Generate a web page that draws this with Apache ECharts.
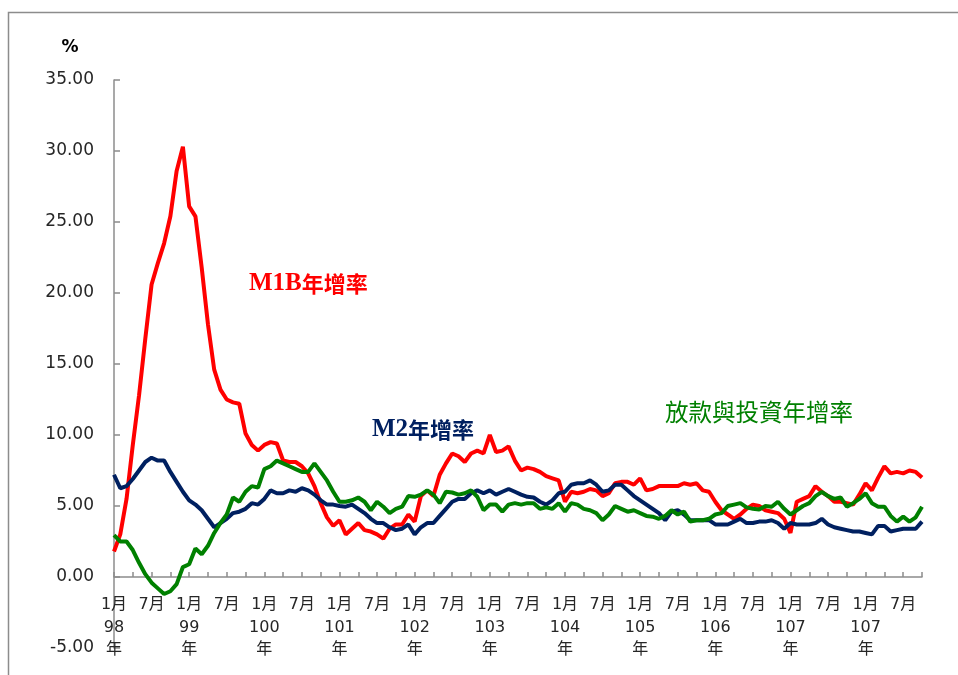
<!DOCTYPE html>
<html><head><meta charset="utf-8">
<script src="https://cdn.jsdelivr.net/npm/echarts@6/dist/echarts.min.js"></script>
<style>html,body{margin:0;padding:0;background:#fff}#c{width:958px;height:675px}</style>
</head><body><div id="c"></div>
<script>
// Year labels shown under each January (reference repeats "107")
const yearLabels = ['98','99','100','101','102','103','104','105','106','107','107'];
const monthCount = 130; // 98/1 .. 108/10

// M1B 年增率 (%)
const m1b = [1.8,3.0,5.5,9.3,12.8,16.8,20.6,22.1,23.5,25.4,28.6,30.3,
 26.1,25.4,21.8,17.8,14.6,13.2,12.5,12.3,12.2,10.1,9.3,8.9,
 9.3,9.5,9.4,8.2,8.1,8.1,7.8,7.3,6.4,5.2,4.2,3.6,
 4.0,3.0,3.4,3.8,3.3,3.2,3.0,2.7,3.4,3.7,3.7,4.4,
 3.9,5.7,6.1,5.7,7.2,8.0,8.7,8.5,8.1,8.7,8.9,8.7,
 10.0,8.8,8.9,9.2,8.2,7.5,7.7,7.6,7.4,7.1,6.95,6.8,
 5.3,6.0,5.9,6.0,6.2,6.1,5.7,5.9,6.6,6.7,6.7,6.5,
 6.95,6.1,6.2,6.4,6.4,6.4,6.4,6.6,6.5,6.6,6.1,6.0,
 5.3,4.7,4.4,4.1,4.4,4.8,5.1,5.0,4.7,4.6,4.5,4.1,
 3.1,5.3,5.5,5.7,6.4,6.0,5.7,5.3,5.3,5.2,5.1,5.8,
 6.6,6.1,7.0,7.8,7.3,7.4,7.3,7.5,7.4,7.0];

// M2 年增率 (%)
const m2 = [7.2,6.25,6.4,6.9,7.5,8.1,8.4,8.2,8.2,7.4,6.7,6.0,
 5.4,5.1,4.7,4.1,3.5,3.8,4.1,4.5,4.6,4.8,5.2,5.1,
 5.5,6.1,5.9,5.9,6.1,6.0,6.25,6.1,5.8,5.4,5.1,5.1,
 5.0,4.95,5.1,4.8,4.5,4.1,3.8,3.8,3.5,3.3,3.4,3.7,
 3.0,3.5,3.8,3.8,4.3,4.8,5.3,5.5,5.5,5.9,6.1,5.9,
 6.1,5.8,6.0,6.2,6.0,5.8,5.65,5.6,5.3,5.1,5.4,5.9,
 6.0,6.5,6.6,6.6,6.8,6.5,6.0,6.1,6.5,6.5,6.1,5.7,
 5.4,5.1,4.8,4.5,4.0,4.6,4.7,4.4,4.0,4.0,4.0,4.0,
 3.7,3.7,3.7,3.9,4.1,3.8,3.8,3.9,3.9,4.0,3.8,3.4,
 3.8,3.7,3.7,3.7,3.8,4.1,3.7,3.5,3.4,3.3,3.2,3.2,
 3.1,3.0,3.6,3.6,3.2,3.3,3.4,3.4,3.4,3.9];

// 放款與投資年增率 (%)
const loans = [2.95,2.5,2.5,1.9,1.0,0.2,-0.4,-0.8,-1.2,-1.0,-0.5,0.7,
 0.9,2.0,1.6,2.2,3.1,3.8,4.4,5.6,5.3,6.0,6.4,6.3,
 7.6,7.8,8.2,8.0,7.8,7.6,7.4,7.4,8.0,7.4,6.8,6.0,
 5.3,5.3,5.4,5.6,5.3,4.7,5.3,4.95,4.5,4.8,4.95,5.7,
 5.65,5.8,6.1,5.8,5.2,6.0,5.95,5.8,5.9,6.1,5.65,4.7,
 5.1,5.1,4.6,5.1,5.2,5.1,5.2,5.2,4.8,4.9,4.8,5.2,
 4.6,5.2,5.1,4.8,4.7,4.5,4.0,4.4,5.0,4.8,4.6,4.7,
 4.5,4.3,4.25,4.1,4.3,4.7,4.4,4.6,3.9,4.0,4.0,4.1,
 4.4,4.5,5.0,5.1,5.2,4.9,4.8,4.75,5.0,4.95,5.3,4.8,
 4.4,4.7,5.0,5.2,5.7,6.0,5.7,5.5,5.6,4.95,5.2,5.5,
 5.9,5.2,4.95,4.95,4.3,3.9,4.25,3.9,4.2,4.95];

const yMin = -5, yMax = 35, yStep = 5;

const categories = [];
for (let i = 0; i < monthCount; i++) {
  const y = yearLabels[Math.floor(i / 12)];
  const m = i % 12 + 1;
  categories.push(m === 1 ? '1月\n' + y + '\n年' : m + '月');
}

const gridTop = 80, gridBottomPx = 648;
const axisColor = '#8c8c8c';
const txtColor = '#262626';
const fam = 'DejaVu Sans, Noto Sans CJK TC, sans-serif';

const chart = echarts.init(document.getElementById('c'), null, {renderer: 'canvas'});
// put the whole x axis (line, ticks, labels) at the value 0
const zeroOffset = -(gridBottomPx - gridTop) * (0 - yMin) / (yMax - yMin);
chart.setOption({
  animation: false,
  backgroundColor: '#ffffff',
  grid: {left: 114, right: 36, top: gridTop, bottom: 675 - gridBottomPx, containLabel: false, outerBoundsMode: 'none'},
  xAxis: {
    type: 'category',
    boundaryGap: false,
    data: categories,
    offset: zeroOffset,
    axisLine: {show: true, onZero: false, lineStyle: {color: axisColor, width: 1.5}},
    axisTick: {show: true, interval: 2, inside: true, length: 5, lineStyle: {color: axisColor, width: 1.5}},
    axisLabel: {interval: 5, margin: 17, color: txtColor, fontSize: 16, lineHeight: 22.5, fontFamily: fam},
    splitLine: {show: false}
  },
  yAxis: {
    type: 'value',
    min: yMin, max: yMax, interval: yStep,
    axisLine: {show: true, lineStyle: {color: axisColor, width: 1.5}},
    axisTick: {show: true, inside: true, length: 6, lineStyle: {color: axisColor, width: 1.5}},
    axisLabel: {margin: 20, color: txtColor, fontSize: 17, fontFamily: fam, formatter: v => v.toFixed(2)},
    splitLine: {show: false}
  },
  series: [
    {name: 'M1B年增率', type: 'line', data: m1b, symbol: 'none', lineStyle: {color: '#ff0000', width: 4}, itemStyle: {color: '#ff0000'}},
    {name: 'M2年增率', type: 'line', data: m2, symbol: 'none', lineStyle: {color: '#002060', width: 4}, itemStyle: {color: '#002060'}},
    {name: '放款與投資年增率', type: 'line', data: loans, symbol: 'none', lineStyle: {color: '#008000', width: 4}, itemStyle: {color: '#008000'}}
  ],
  graphic: [
    {type: 'rect', shape: {x: 8.5, y: 12.5, width: 1200, height: 1200}, style: {fill: 'none', stroke: axisColor, lineWidth: 1.5}, silent: true},
    {type: 'text', x: 70, y: 48, style: {text: '%', fill: '#000', font: 'bold 17px DejaVu Sans, sans-serif', align: 'center', verticalAlign: 'middle'}},
    {type: 'text', x: 249, y: 284, style: {
      text: '{a|M1B}{b|年增率}', align: 'left', verticalAlign: 'middle',
      rich: {
        a: {fill: '#ff0000', fontFamily: 'Liberation Serif, serif', fontWeight: 'bold', fontSize: 25},
        b: {fill: '#ff0000', fontFamily: 'Noto Sans CJK TC', fontWeight: 'bold', fontSize: 22}
      }}},
    {type: 'text', x: 372, y: 430, style: {
      text: '{a|M2}{b|年增率}', align: 'left', verticalAlign: 'middle',
      rich: {
        a: {fill: '#002060', fontFamily: 'Liberation Serif, serif', fontWeight: 'bold', fontSize: 25},
        b: {fill: '#002060', fontFamily: 'Noto Sans CJK TC', fontWeight: 'bold', fontSize: 22}
      }}},
    {type: 'text', x: 665, y: 412, style: {
      text: '放款與投資年增率', align: 'left', verticalAlign: 'middle',
      fill: '#008000', font: '23.5px Noto Sans CJK TC'}}
  ]
});
</script>
</body></html>
